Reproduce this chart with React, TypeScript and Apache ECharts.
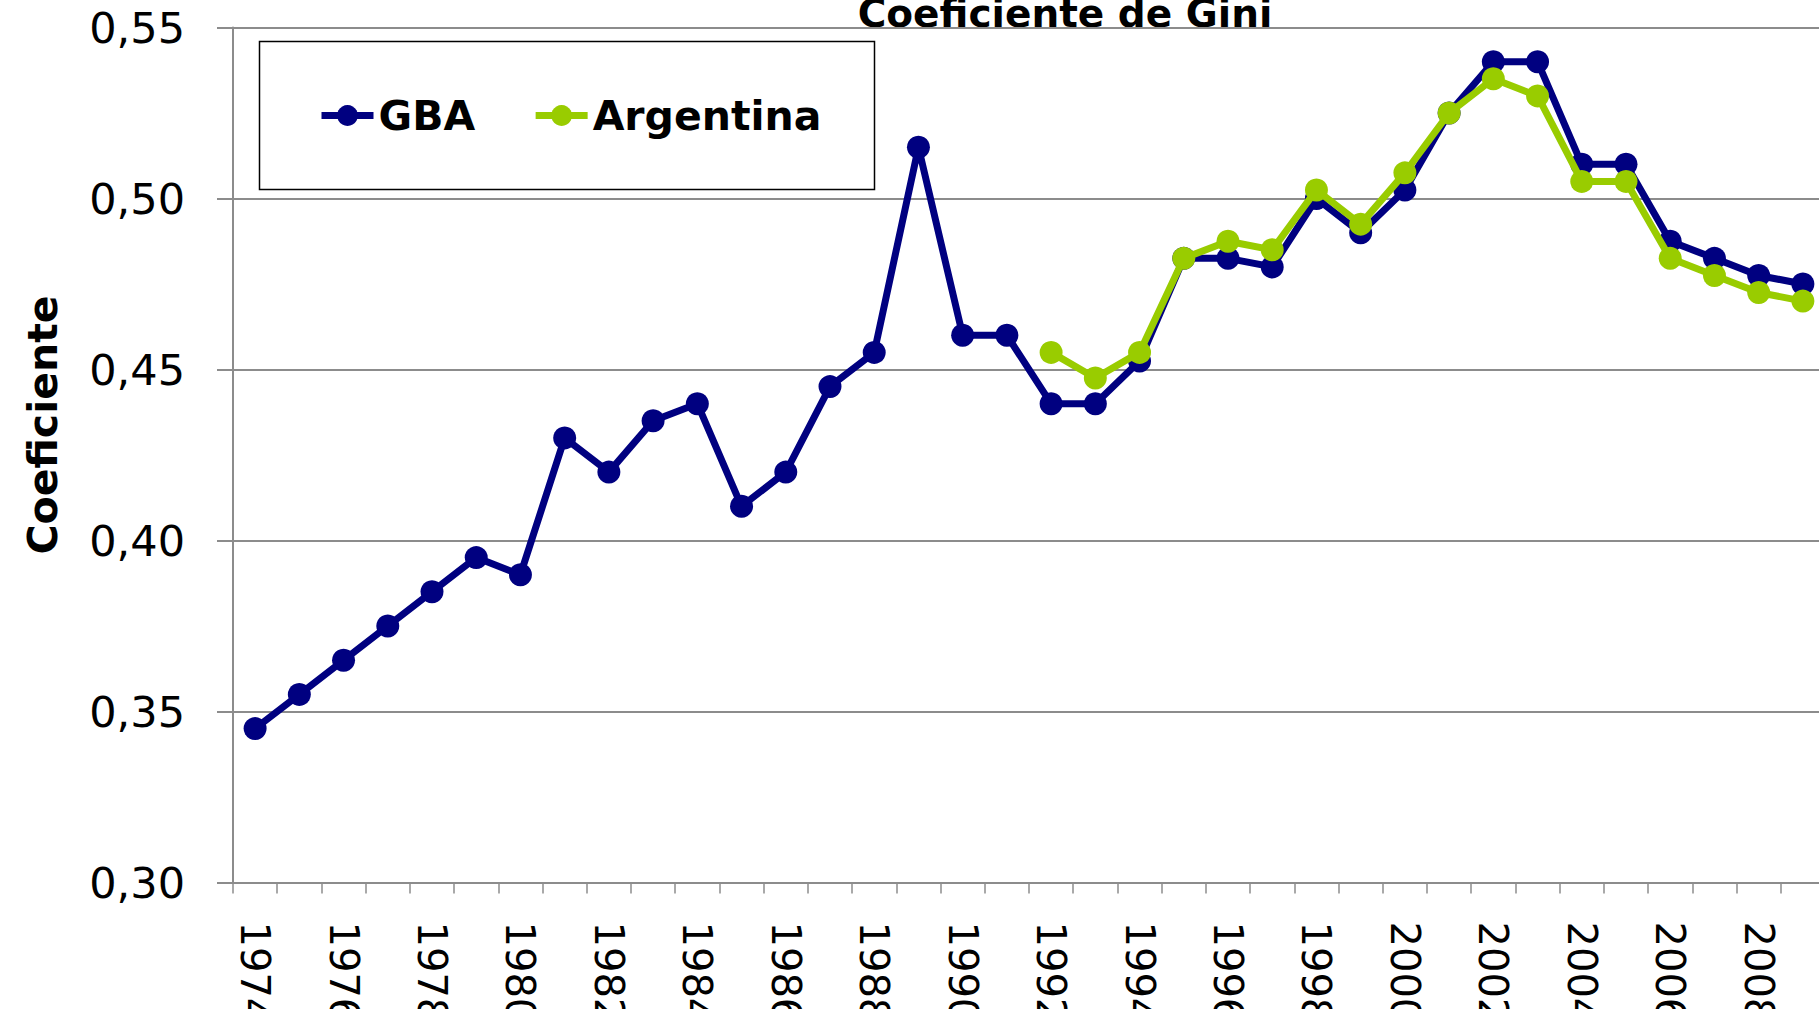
import React, { useEffect, useRef } from "react";
import * as echarts from "echarts";

const years: string[] = [
  "1974","1975","1976","1977","1978","1979","1980","1981","1982","1983","1984","1985",
  "1986","1987","1988","1989","1990","1991","1992","1993","1994","1995","1996","1997",
  "1998","1999","2000","2001","2002","2003","2004","2005","2006","2007","2008","2009",
];

const gba: number[] = [
  0.345, 0.355, 0.365, 0.375, 0.385, 0.395, 0.39, 0.43, 0.42, 0.435, 0.44, 0.41,
  0.42, 0.445, 0.455, 0.515, 0.46, 0.46, 0.44, 0.44, 0.4525, 0.4825, 0.4825, 0.48,
  0.5, 0.49, 0.5025, 0.525, 0.54, 0.54, 0.51, 0.51, 0.4875, 0.4825, 0.4775, 0.475,
];

const argentina: (number | null)[] = [
  null, null, null, null, null, null, null, null, null, null, null, null,
  null, null, null, null, null, null, 0.455, 0.4475, 0.455, 0.4825, 0.4875, 0.485,
  0.5025, 0.4925, 0.5075, 0.525, 0.535, 0.53, 0.505, 0.505, 0.4825, 0.4775, 0.4725, 0.47,
];

const seriesNames = ["GBA", "Argentina"];
const chartTitle = "Coeficiente de Gini";
const yAxisName = "Coeficiente";

const NAVY = "#000080";
const GREEN = "#99CC00";
const GRID = "#8c8c8c";
const FONT = "DejaVu Sans";

export default function App() {
  const ref = useRef<HTMLDivElement>(null);
  useEffect(() => {
    if (!ref.current) return;
    const chart = echarts.init(ref.current, null, { renderer: "svg" });
    chart.setOption({
      animation: false,
      backgroundColor: "#ffffff",
      grid: {
        left: 233,
        top: 27.5,
        width: 1592,
        height: 855,
        containLabel: false,
        outerBoundsMode: "none",
      },
      legend: {
        data: seriesNames,
        left: 318,
        top: 95,
        padding: 0,
        itemWidth: 52,
        itemHeight: 26,
        itemGap: 57,
        lineStyle: { width: 7 },
        textStyle: { fontFamily: FONT, fontWeight: "bold", fontSize: 41, color: "#000", lineHeight: 41 },
      },
      xAxis: {
        type: "category",
        data: years,
        boundaryGap: true,
        axisLine: { lineStyle: { color: GRID, width: 2 } },
        axisTick: { show: true, interval: 0, length: 11, lineStyle: { color: GRID, width: 1.5 } },
        axisLabel: {
          interval: 1,
          rotate: -90,
          margin: 39,
          fontFamily: FONT,
          fontSize: 40,
          color: "#000",
        },
        splitLine: { show: false },
      },
      yAxis: {
        type: "value",
        min: 0.3,
        max: 0.55,
        interval: 0.05,
        axisLine: { show: true, lineStyle: { color: GRID, width: 2 } },
        axisTick: { show: true, length: 16, inside: false, lineStyle: { color: GRID, width: 2 } },
        axisLabel: {
          margin: 48,
          fontFamily: FONT,
          fontSize: 43,
          color: "#000",
          formatter: (v: number) => v.toFixed(2).replace(".", ","),
        },
        splitLine: { show: true, lineStyle: { color: GRID, width: 2 } },
      },
      graphic: [
        {
          type: "rect",
          z: -1,
          shape: { x: 259.5, y: 41.5, width: 615, height: 148 },
          style: { fill: "#fff", stroke: "#000", lineWidth: 1.5 },
        },
        {
          type: "text",
          x: 1065,
          y: 13,
          style: {
            text: chartTitle,
            fontFamily: FONT,
            fontWeight: "bold",
            fontSize: 39,
            fill: "#000",
            align: "center",
            verticalAlign: "middle",
          },
        },
        {
          type: "text",
          x: 43,
          y: 425,
          rotation: Math.PI / 2,
          style: {
            text: yAxisName,
            fontFamily: FONT,
            fontWeight: "bold",
            fontSize: 41,
            fill: "#000",
            align: "center",
            verticalAlign: "middle",
          },
        },
      ],
      series: [
        {
          name: seriesNames[0],
          type: "line",
          data: gba,
          symbol: "circle",
          symbolSize: 23,
          showAllSymbol: true,
          clip: false,
          lineStyle: { color: NAVY, width: 7 },
          itemStyle: { color: NAVY },
          z: 2,
        },
        {
          name: seriesNames[1],
          type: "line",
          data: argentina,
          symbol: "circle",
          symbolSize: 23,
          showAllSymbol: true,
          clip: false,
          connectNulls: false,
          lineStyle: { color: GREEN, width: 7 },
          itemStyle: { color: GREEN },
          z: 3,
        },
      ],
    });
    return () => chart.dispose();
  }, []);
  return (
    <div
      ref={ref}
      style={{ position: "fixed", left: 0, top: 0, width: 1819, height: 1009, overflow: "hidden" }}
    />
  );
}
